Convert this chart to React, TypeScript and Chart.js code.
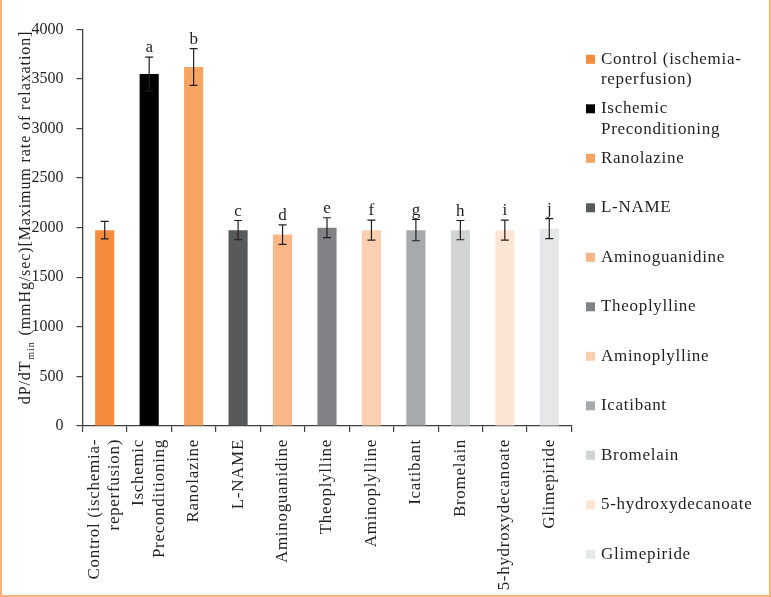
import React, { useEffect, useRef } from "react";
import { Chart, registerables } from "chart.js";

Chart.register(...registerables);

// ---- data ----
const categories = [
  "Control (ischemia-reperfusion)",
  "Ischemic Preconditioning",
  "Ranolazine",
  "L-NAME",
  "Aminoguanidine",
  "Theoplylline",
  "Aminoplylline",
  "Icatibant",
  "Bromelain",
  "5-hydroxydecanoate",
  "Glimepiride",
];

// wrapped forms of the names, used under the axis and in the legend
const categoryLines = [
  ["Control (ischemia-", "reperfusion)"],
  ["Ischemic", "Preconditioning"],
  ["Ranolazine"],
  ["L-NAME"],
  ["Aminoguanidine"],
  ["Theoplylline"],
  ["Aminoplylline"],
  ["Icatibant"],
  ["Bromelain"],
  ["5-hydroxydecanoate"],
  ["Glimepiride"],
];

const meanValues = [1975, 3550, 3620, 1975, 1930, 2000, 1975, 1975, 1975, 1975, 1990];
const errorValues = [88, 170, 185, 97, 98, 100, 101, 107, 97, 100, 100];
const significanceLetters = ["", "a", "b", "c", "d", "e", "f", "g", "h", "i", "j"];

const barColors = [
  "#F58B3D",
  "#000000",
  "#F6A461",
  "#58595B",
  "#F9B787",
  "#808285",
  "#FBCFAF",
  "#A7A9AC",
  "#D1D3D4",
  "#FDE5D4",
  "#E6E7E8",
];

const yMin = 0;
const yMax = 4000;
const yStep = 500;

// ---- styling ----
const FONT = "'Liberation Serif', 'Times New Roman', serif";
const TEXT_COLOR = "#231F20";
const AXIS_COLOR = "#404041";
const FRAME_COLOR = "#F9B27E";

const framePlugin = {
  id: "frame",
  beforeDraw(chart: any) {
    const { ctx, width, height } = chart;
    ctx.save();
    ctx.fillStyle = "#ffffff";
    ctx.fillRect(0, 0, width, height);
    ctx.fillStyle = FRAME_COLOR;
    ctx.fillRect(0, 0, 2, height);
    ctx.fillRect(width - 2, 0, 2, height);
    ctx.fillRect(0, height - 2, width, 2);
    ctx.restore();
  },
};

const errorBarPlugin = {
  id: "errorBars",
  afterDatasetsDraw(chart: any) {
    const { ctx } = chart;
    const xs = chart.scales.x;
    const ys = chart.scales.y;
    ctx.save();
    ctx.strokeStyle = TEXT_COLOR;
    ctx.lineWidth = 1.2;
    ctx.fillStyle = TEXT_COLOR;
    ctx.font = `17px ${FONT}`;
    ctx.textAlign = "center";
    ctx.textBaseline = "alphabetic";
    meanValues.forEach((v, i) => {
      const e = errorValues[i];
      const x = xs.getPixelForValue(i);
      const yTop = ys.getPixelForValue(v + e);
      const yBot = ys.getPixelForValue(v - e);
      ctx.beginPath();
      ctx.moveTo(x, yTop);
      ctx.lineTo(x, yBot);
      ctx.moveTo(x - 4, yTop);
      ctx.lineTo(x + 4, yTop);
      ctx.moveTo(x - 4, yBot);
      ctx.lineTo(x + 4, yBot);
      ctx.stroke();
      const letter = significanceLetters[i];
      if (letter) ctx.fillText(letter, x, yTop - 5);
    });
    ctx.restore();
  },
};

const textPlugin = {
  id: "texts",
  afterDraw(chart: any) {
    const { ctx, chartArea } = chart;
    const xs = chart.scales.x;
    ctx.save();
    ctx.fillStyle = TEXT_COLOR;
    ctx.font = `17px ${FONT}`;
    (ctx as any).letterSpacing = "0.7px";

    // category names, vertical under the axis
    const lineH = 20.5;
    categoryLines.forEach((lines, i) => {
      const x = xs.getPixelForValue(i);
      lines.forEach((line, k) => {
        const off = (k - (lines.length - 1) / 2) * lineH;
        ctx.save();
        ctx.translate(x + off, xs.top + 13);
        ctx.rotate(-Math.PI / 2);
        ctx.textAlign = "right";
        ctx.textBaseline = "middle";
        ctx.fillText(line, 0, 0);
        ctx.restore();
      });
    });

    // legend on the right
    const legendX = chartArea.right + 14.5;
    const legendTop = chartArea.top + 30;
    const itemStep = 49.5;
    categoryLines.forEach((lines, i) => {
      const y = legendTop + i * itemStep;
      ctx.fillStyle = barColors[i];
      ctx.fillRect(legendX, y - 4.5, 9, 9);
      ctx.fillStyle = TEXT_COLOR;
      ctx.textAlign = "left";
      ctx.textBaseline = "middle";
      lines.forEach((line, k) => {
        ctx.fillText(line, legendX + 15, y + k * lineH);
      });
    });

    // y-axis title with subscript
    (ctx as any).letterSpacing = "0.9px";
    const main1 = "dP/dT";
    const sub = "min";
    const main2 = " (mmHg/sec)[Maximum rate of relaxation]";
    ctx.font = `16px ${FONT}`;
    const w1 = ctx.measureText(main1).width;
    const w3 = ctx.measureText(main2).width;
    ctx.font = `10px ${FONT}`;
    const w2 = ctx.measureText(sub).width;
    const total = w1 + w2 + w3 + 2;
    const cx = 26;
    const cy = 217.5;
    ctx.save();
    ctx.translate(cx, cy);
    ctx.rotate(-Math.PI / 2);
    ctx.textAlign = "left";
    ctx.textBaseline = "middle";
    let px = -total / 2;
    ctx.font = `16px ${FONT}`;
    ctx.fillText(main1, px, 0);
    px += w1 + 1;
    ctx.font = `10px ${FONT}`;
    ctx.fillText(sub, px, 5);
    px += w2 + 1;
    ctx.font = `16px ${FONT}`;
    ctx.fillText(main2, px, 0);
    ctx.restore();

    (ctx as any).letterSpacing = "0px";
    ctx.restore();
  },
};

export default function App() {
  const canvasRef = useRef<HTMLCanvasElement | null>(null);

  useEffect(() => {
    const canvas = canvasRef.current;
    if (!canvas) return;
    const chart = new Chart(canvas, {
      type: "bar",
      data: {
        labels: categories,
        datasets: [
          {
            data: meanValues,
            backgroundColor: barColors,
            borderWidth: 0,
            categoryPercentage: 1,
            barPercentage: 0.43,
          },
        ],
      },
      options: {
        responsive: false,
        animation: false,
        layout: { padding: { top: 29.3, right: 199.5, left: 0, bottom: 0 } },
        plugins: {
          legend: { display: false },
          tooltip: { enabled: false },
          title: { display: false },
        },
        scales: {
          x: {
            type: "category",
            offset: true,
            grid: {
              display: true,
              offset: true,
              drawOnChartArea: false,
              drawTicks: true,
              tickLength: 6,
              color: AXIS_COLOR,
              lineWidth: 1.2,
            },
            border: { display: true, color: AXIS_COLOR, width: 1.3 },
            ticks: { display: false },
            afterFit: (s: any) => {
              s.height = 171;
            },
          },
          y: {
            min: yMin,
            max: yMax,
            ticks: {
              stepSize: yStep,
              color: TEXT_COLOR,
              font: { family: FONT, size: 16 },
              padding: 13,
              callback: (v: any) => String(v),
            },
            grid: {
              display: true,
              drawOnChartArea: false,
              drawTicks: true,
              tickLength: 6,
              color: AXIS_COLOR,
              lineWidth: 1.2,
            },
            border: { display: true, color: AXIS_COLOR, width: 1.3 },
            afterFit: (s: any) => {
              s.width = 82.5;
            },
          },
        },
      },
      plugins: [framePlugin, errorBarPlugin, textPlugin],
    });
    return () => chart.destroy();
  }, []);

  return (
    <div style={{ position: "absolute", left: 0, top: 0, width: 771, height: 597 }}>
      <canvas ref={canvasRef} width={771} height={597} style={{ display: "block", width: 771, height: 597 }} />
    </div>
  );
}
